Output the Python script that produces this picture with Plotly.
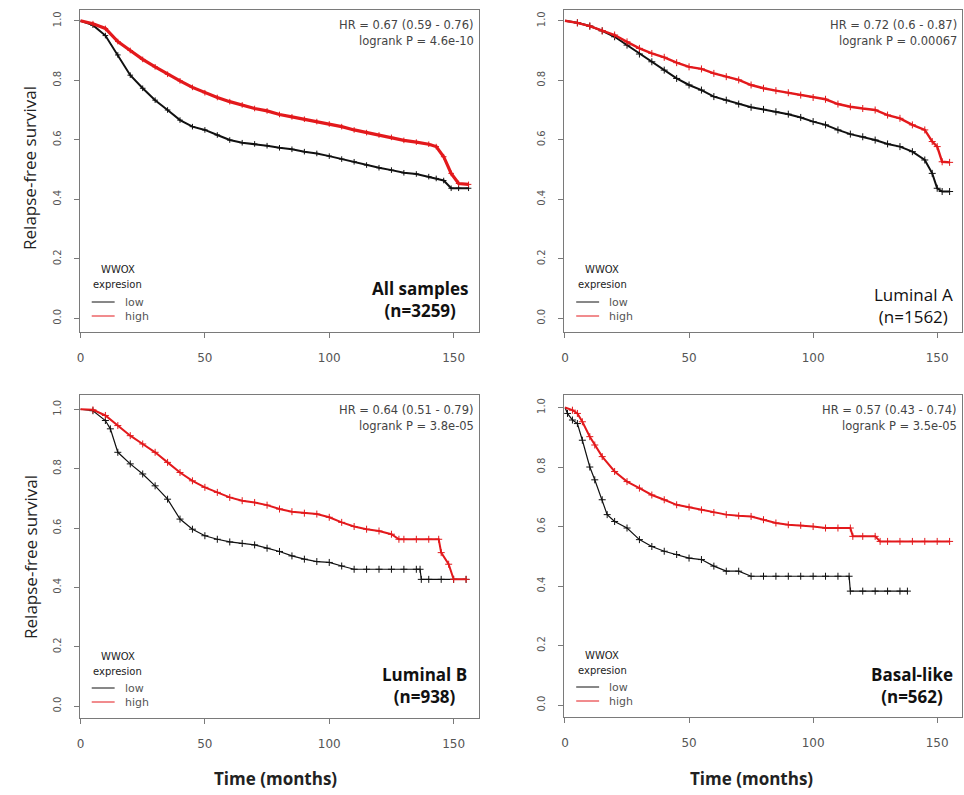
import plotly.graph_objects as go

W, H = 964, 795

# ---------------- data ----------------
panel_titles = ["All samples", "Luminal A", "Luminal B", "Basal-like"]
panel_n = ["(n=3259)", "(n=1562)", "(n=938)", "(n=562)"]
hr_text = ["HR = 0.67 (0.59 - 0.76)", "HR = 0.72 (0.6 - 0.87)",
           "HR = 0.64 (0.51 - 0.79)", "HR = 0.57 (0.43 - 0.74)"]
p_text = ["logrank P = 4.6e-10", "logrank P = 0.00067",
          "logrank P = 3.8e-05", "logrank P = 3.5e-05"]

all_t = [0, 5, 10, 15, 20, 25, 30, 35, 40, 45, 50, 55, 60, 65, 70, 75, 80, 85, 90, 95,
         100, 105, 110, 115, 120, 125, 130, 135, 140, 143, 146, 149, 152, 156]
all_low = [1.0, 0.985, 0.95, 0.885, 0.817, 0.773, 0.733, 0.70, 0.666, 0.644,
           0.633, 0.616, 0.599, 0.59, 0.586, 0.58, 0.573, 0.568, 0.56, 0.554,
           0.545, 0.535, 0.526, 0.515, 0.506, 0.498, 0.489, 0.485, 0.476,
           0.47, 0.463, 0.437, 0.437, 0.437]
all_high = [1.0, 0.99, 0.974, 0.93, 0.90, 0.87, 0.845, 0.82, 0.798, 0.776,
            0.758, 0.742, 0.728, 0.717, 0.705, 0.697, 0.685, 0.677, 0.669, 0.661,
            0.653, 0.644, 0.633, 0.624, 0.616, 0.608, 0.598, 0.592, 0.585,
            0.577, 0.543, 0.487, 0.453, 0.45]

luma_t = [0, 5, 10, 15, 20, 25, 30, 35, 40, 45, 50, 55, 60, 65, 70, 75, 80, 85, 90, 95,
          100, 105, 110, 115, 120, 125, 130, 135, 140, 145, 148, 150, 152, 155]
luma_low = [1.0, 0.993, 0.982, 0.966, 0.946, 0.918, 0.888, 0.862, 0.834, 0.806,
            0.784, 0.767, 0.745, 0.733, 0.72, 0.709, 0.702, 0.694, 0.686, 0.675,
            0.661, 0.65, 0.633, 0.619, 0.61, 0.599, 0.586, 0.577, 0.56, 0.532,
            0.487, 0.437, 0.426, 0.426]
luma_high = [1.0, 0.993, 0.982, 0.966, 0.952, 0.929, 0.907, 0.89, 0.877, 0.859,
             0.845, 0.838, 0.823, 0.812, 0.801, 0.784, 0.773, 0.765, 0.758, 0.75,
             0.742, 0.736, 0.72, 0.711, 0.705, 0.70, 0.683, 0.672, 0.65, 0.633,
             0.594, 0.577, 0.526, 0.524]

lumb_low_t = [0, 5, 10, 12, 15, 20, 25, 30, 35, 40, 45, 50, 55, 60, 65, 70, 75, 80, 85, 90,
              95, 100, 105, 110, 115, 120, 125, 130, 135, 136.5, 137, 140, 145, 150, 155]
lumb_low = [1.0, 0.995, 0.962, 0.934, 0.855, 0.816, 0.782, 0.742, 0.697, 0.63,
            0.596, 0.574, 0.562, 0.553, 0.548, 0.543, 0.532, 0.521, 0.506, 0.495,
            0.487, 0.484, 0.472, 0.461, 0.461, 0.461, 0.461, 0.461, 0.461, 0.461,
            0.427, 0.427, 0.427, 0.427, 0.427]
lumb_high_t = [0, 5, 10, 15, 20, 25, 30, 35, 40, 45, 50, 55, 60, 65, 70, 75, 80, 85, 90, 95,
               100, 105, 110, 115, 120, 125, 128, 130, 135, 140, 144, 145, 148, 150, 155]
lumb_high = [1.0, 0.998, 0.979, 0.945, 0.911, 0.883, 0.855, 0.821, 0.787, 0.759,
             0.737, 0.72, 0.703, 0.692, 0.686, 0.677, 0.664, 0.655, 0.65, 0.647,
             0.636, 0.619, 0.605, 0.596, 0.59, 0.579, 0.562, 0.562, 0.562, 0.562,
             0.562, 0.517, 0.478, 0.427, 0.427]

bas_low_t = [0, 1, 3, 5, 7, 10, 12, 15, 17, 20, 25, 30, 35, 40, 45, 50, 55, 60, 65, 70,
             75, 80, 85, 90, 95, 100, 105, 110, 114.5, 115, 120, 125, 130, 135, 138]
bas_low = [1.0, 0.98, 0.958, 0.946, 0.89, 0.80, 0.757, 0.69, 0.64, 0.617,
           0.595, 0.556, 0.533, 0.517, 0.506, 0.494, 0.489, 0.467, 0.45, 0.45,
           0.433, 0.433, 0.433, 0.433, 0.433, 0.433, 0.433, 0.433, 0.433,
           0.383, 0.383, 0.383, 0.383, 0.383, 0.383]
bas_high_t = [0, 3, 5, 7, 10, 12, 15, 20, 25, 30, 35, 40, 45, 50, 55, 60, 65, 70, 75, 80,
              85, 90, 95, 100, 105, 110, 115, 116, 120, 125, 127, 130, 135, 140, 145, 150, 155]
bas_high = [1.0, 0.991, 0.98, 0.952, 0.902, 0.874, 0.835, 0.785, 0.751, 0.729,
            0.706, 0.69, 0.673, 0.665, 0.656, 0.647, 0.64, 0.636, 0.634, 0.623,
            0.612, 0.606, 0.604, 0.60, 0.595, 0.595, 0.595, 0.567, 0.567, 0.567,
            0.55, 0.55, 0.55, 0.55, 0.55, 0.55, 0.55]

x_ticks = [0, 50, 100, 150]
y_ticks = [0.0, 0.2, 0.4, 0.6, 0.8, 1.0]
group_names = ["low", "high"]
legend_title = ["WWOX", "expresion"]

curves = [
    ((all_t, all_low), (all_t, all_high)),
    ((luma_t, luma_low), (luma_t, luma_high)),
    ((lumb_low_t, lumb_low), (lumb_high_t, lumb_high)),
    ((bas_low_t, bas_low), (bas_high_t, bas_high)),
]

# ---------------- layout geometry (pixels) ----------------
boxes = [  # left, right, top, bottom
    (77, 477, 10, 332),
    (563, 962, 10, 332),
    (77, 477, 395, 718),
    (563, 962, 395, 717),
]
y_ranges = [[-0.046, 1.036], [-0.046, 1.036], [-0.04, 1.048], [-0.04, 1.042]]
colors = ["#111111", "#e3191c"]
lw = [[2.0, 3.2], [2.0, 2.4], [1.2, 2.0], [1.2, 2.0]]
msize = [4, 5, 5, 5]


def px(x):
    return x / W


def py(y):
    return 1 - y / H


fig = go.Figure()
layout = dict(width=W, height=H, margin=dict(l=0, r=0, t=0, b=0),
              paper_bgcolor="white", plot_bgcolor="white", showlegend=False)
annotations = []
shapes = []

for i in range(4):
    L, R, T, B = boxes[i]
    sfx = "" if i == 0 else str(i + 1)
    xa, ya = "x" + sfx, "y" + sfx
    common = dict(showline=True, mirror=True, linecolor="#7a7a7a", linewidth=1.2,
                  ticks="outside", ticklen=5, tickcolor="#7a7a7a", tickwidth=1,
                  showgrid=False, zeroline=False)
    layout["xaxis" + sfx] = dict(common, domain=[px(L), px(R)], anchor=ya,
                                 range=[-0.3, 160], tickvals=x_ticks,
                                 ticklabelstandoff=9,
                                 tickfont=dict(family="DejaVu Sans", size=12, color="#555"))
    layout["yaxis" + sfx] = dict(common, domain=[py(B), py(T)], anchor=xa,
                                 range=y_ranges[i], tickvals=y_ticks,
                                 tickformat=".1f", tickangle=-90,
                                 ticklabelstandoff=9,
                                 tickfont=dict(family="DejaVu Sans", size=10, color="#555"))
    for g in range(2):
        t, s = curves[i][g]
        fig.add_trace(go.Scatter(x=t, y=s, mode="lines", name=group_names[g],
                                 line=dict(color=colors[g], width=lw[i][g]),
                                 xaxis=xa, yaxis=ya))
        fig.add_trace(go.Scatter(x=t[1:], y=s[1:], mode="markers", name=group_names[g],
                                 marker=dict(symbol="cross-thin", size=msize[i],
                                             line=dict(color=colors[g], width=1)),
                                 xaxis=xa, yaxis=ya, hoverinfo="skip"))
    # legend (drawn as text + short line keys)
    for k, ttl in enumerate(legend_title):
        annotations.append(dict(x=px(L + 38), y=py(B - 62 + 15 * k), xref="paper", yref="paper",
                                text=ttl, showarrow=False, xanchor="center", yanchor="middle",
                                font=dict(family="DejaVu Sans", size=10, color="#222")))
    for g in range(2):
        yk = py(B - 30 + 14 * g)
        shapes.append(dict(type="line", xref="paper", yref="paper",
                           x0=px(L + 12), x1=px(L + 35), y0=yk, y1=yk,
                           line=dict(color=colors[g], width=1)))
        annotations.append(dict(x=px(L + 43), y=yk, xref="paper", yref="paper",
                                text=group_names[g], showarrow=False, xanchor="left",
                                yanchor="middle",
                                font=dict(family="DejaVu Sans", size=11, color="#555")))
    # HR / logrank text
    for k, txt in enumerate([hr_text[i], p_text[i]]):
        annotations.append(dict(x=px(R - 3), y=py(T + 15 + 16 * k), xref="paper", yref="paper",
                                text=txt, showarrow=False, xanchor="right",
                                yanchor="middle",
                                font=dict(family="DejaVu Sans", size=11.5, color="#444")))
    # panel label
    cx = [418, 913, 423, 912][i]
    cy = [299, 305, 685, 685][i]
    weight = "normal" if i == 1 else "bold"
    annotations.append(dict(x=px(cx), y=py(cy), xref="paper", yref="paper",
                            text=panel_titles[i] + "<br>" + panel_n[i], showarrow=False,
                            xanchor="center", yanchor="middle", align="center",
                            font=dict(family="Open Sans", size=17, color="#111",
                                      weight=weight)))

# axis titles
for yc in [168, 557]:
    annotations.append(dict(x=px(27), y=py(yc), xref="paper", yref="paper",
                            text="Relapse-free survival", showarrow=False, textangle=-90,
                            xanchor="center", yanchor="middle",
                            font=dict(family="Open Sans", size=17, color="#222")))
for xc in [273, 751]:
    annotations.append(dict(x=px(xc), y=py(778), xref="paper", yref="paper",
                            text="Time (months)", showarrow=False,
                            xanchor="center", yanchor="middle",
                            font=dict(family="Open Sans", size=17, color="#222",
                                      weight="bold")))

layout["annotations"] = annotations
layout["shapes"] = shapes
fig.update_layout(**layout)
fig.write_html("out.html", config={"displayModeBar": False},
               post_script="document.body.style.margin='0';document.body.style.overflow='hidden';")
